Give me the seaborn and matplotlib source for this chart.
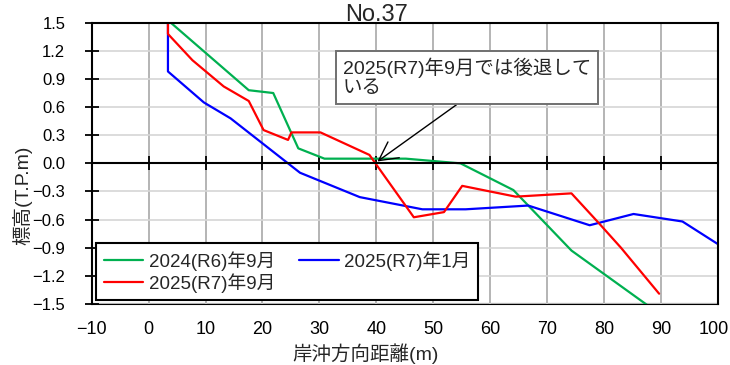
import matplotlib
matplotlib.use("Agg")
import matplotlib.pyplot as plt
import matplotlib.transforms as mtransforms
from matplotlib.ticker import FuncFormatter
import pandas as pd
import seaborn as sns

# Cross-shore profile surveys (distance in m, elevation in T.P.m)
label_2024_09 = "2024(R6)年9月"
label_2025_01 = "2025(R7)年1月"
label_2025_09 = "2025(R7)年9月"

dist_2024_09 = [3.9, 17.6, 21.9, 26.3, 30.9, 45.2, 54.8, 64.1, 74.3, 88.5]
elev_2024_09 = [1.50, 0.78, 0.75, 0.16, 0.05, 0.05, 0.00, -0.285, -0.93, -1.55]

dist_2025_01 = [3.4, 3.4, 9.7, 14.4, 26.6, 37.1, 48.1, 55.7, 66.7, 77.5, 85.2, 93.8, 100.0]
elev_2025_01 = [1.50, 0.98, 0.65, 0.48, -0.10, -0.36, -0.49, -0.49, -0.45, -0.66, -0.54, -0.62, -0.86]

dist_2025_09 = [3.4, 3.4, 7.7, 13.2, 17.6, 20.2, 24.5, 25.1, 30.2, 38.8, 46.6, 51.9, 55.1,
                64.5, 74.3, 79.0, 83.0, 89.7]
elev_2025_09 = [1.50, 1.38, 1.10, 0.82, 0.665, 0.355, 0.25, 0.33, 0.33, 0.09, -0.575, -0.52,
                -0.24, -0.355, -0.32, -0.63, -0.90, -1.39]

x_ticks = [-10, 0, 10, 20, 30, 40, 50, 60, 70, 80, 90, 100]
y_ticks = [-1.5, -1.2, -0.9, -0.6, -0.3, 0.0, 0.3, 0.6, 0.9, 1.2, 1.5]

title_text = "No.37"
x_label = "岸沖方向距離(m)"
y_label = "標高(T.P.m)"
note_text = "2025(R7)年9月では後退して\nいる"
note_point = (40.2, 0.02)

colors = {label_2024_09: "#00b050", label_2025_01: "#0000ff", label_2025_09: "#ff0000"}

sns.set_style("white")
plt.rcParams["font.family"] = ["Liberation Sans", "Noto Sans CJK JP"]
plt.rcParams["axes.unicode_minus"] = True

profiles = pd.concat([
    pd.DataFrame({"dist": dist_2024_09, "elev": elev_2024_09, "survey": label_2024_09}),
    pd.DataFrame({"dist": dist_2025_01, "elev": elev_2025_01, "survey": label_2025_01}),
    pd.DataFrame({"dist": dist_2025_09, "elev": elev_2025_09, "survey": label_2025_09}),
], ignore_index=True)

fig = plt.figure(figsize=(7.3, 3.65), dpi=100)
ax = fig.add_axes([0.1256, 0.1671, 0.8576, 0.7707])

hue_order = [label_2024_09, label_2025_01, label_2025_09]
sns.lineplot(data=profiles, x="dist", y="elev", hue="survey", hue_order=hue_order,
             palette=colors, sort=False, estimator=None, linewidth=1.6,
             legend=False, ax=ax)

ax.set_xlim(-10, 100)
ax.set_ylim(-1.5, 1.5)
ax.set_xticks(x_ticks)
ax.set_yticks(y_ticks)
ax.yaxis.set_major_formatter(FuncFormatter(lambda v, p: f"{v:.1f}".replace("-", "\u2212")))

ax.set_axisbelow(True)
ax.grid(axis="x", color="#a8a8a8", linewidth=1.2)
ax.grid(axis="y", color="#d6d6d6", linewidth=1.2)

for sp in ax.spines.values():
    sp.set_color("black")
    sp.set_linewidth(1.5)

# The main x axis runs along zero elevation, ticks crossing it
ax.spines["bottom"].set_position(("data", 0))
ax.tick_params(axis="x", bottom=True, direction="inout", length=10, width=1.3,
               color="black", labelbottom=False)
ax.tick_params(axis="y", left=True, direction="inout", length=10, width=1.3, pad=14,
               labelsize=12, colors="black")

# Distance labels along the lower frame edge
bottom_axis = ax.secondary_xaxis("bottom")
bottom_axis.set_xticks(x_ticks)
bottom_axis.tick_params(axis="x", bottom=True, length=0, pad=12, labelsize=13,
                        colors="black")
for sp in bottom_axis.spines.values():
    sp.set_color("black")
    sp.set_linewidth(1.5)
last = bottom_axis.get_xticklabels()[-1]
last.set_transform(last.get_transform()
                   + mtransforms.ScaledTranslation(-4 / 100, 0, fig.dpi_scale_trans))

ax.set_xlabel(x_label, fontsize=14)
ax.xaxis.set_label_coords(0.437, -0.14)
ax.set_ylabel(y_label, fontsize=14)
ax.yaxis.set_label_coords(-0.095, 0.387)

fig.text(0.516, 1 - 21 / 365, title_text, ha="center", va="baseline", fontsize=17)

# Legend in row order: 2024-09, 2025-01 / 2025-09
lines = {lbl: ln for lbl, ln in zip(hue_order, ax.get_lines()[:3])}
order = [label_2024_09, label_2025_09, label_2025_01]
leg = ax.legend([lines[k] for k in order], order, ncol=2, loc="lower left",
                bbox_to_anchor=(0.007, 0.014),
                fontsize=13.5, frameon=True, fancybox=False, framealpha=1,
                edgecolor="black", handlelength=2.1, handletextpad=0.3,
                borderaxespad=0, borderpad=0.4, labelspacing=0.12, columnspacing=1.3)
leg.get_frame().set_linewidth(1.5)

ax.annotate(note_text, xy=note_point, xycoords="data",
            xytext=(0.401, 0.875), textcoords="axes fraction",
            fontsize=14, ha="left", va="top", linespacing=1.15,
            bbox=dict(boxstyle="square,pad=0.35", facecolor="white",
                      edgecolor="#707070", linewidth=1.4),
            arrowprops=dict(arrowstyle="->,head_length=0.95,head_width=0.5",
                            color="black", linewidth=1.0, relpos=(0.5, 0.0),
                            shrinkA=0, shrinkB=0))

fig.savefig("out.png", dpi=100)
